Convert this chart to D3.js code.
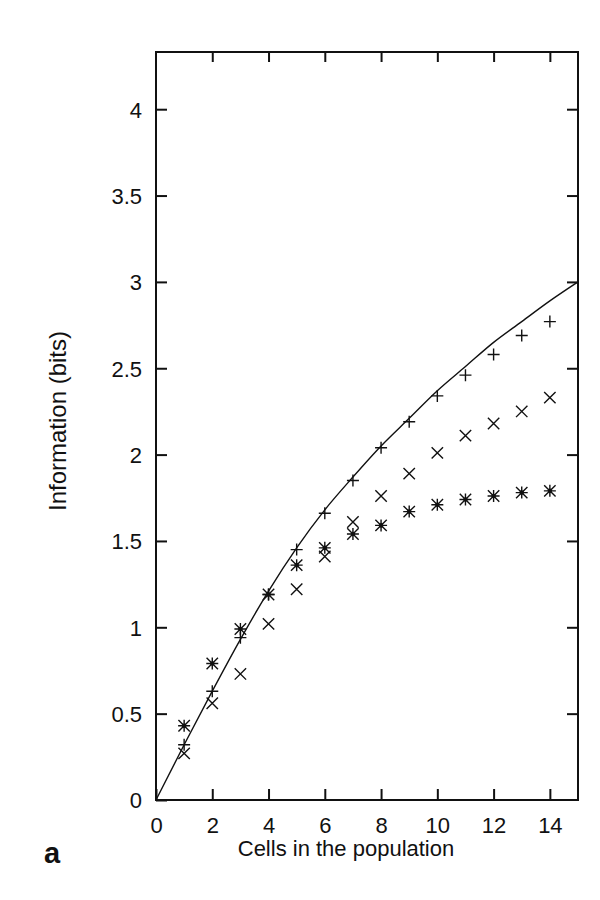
<!DOCTYPE html>
<html><head><meta charset="utf-8">
<script src="https://cdn.jsdelivr.net/npm/d3@7"></script>
<style>body{margin:0;background:#fff}svg{display:block}text{font-family:"Liberation Sans",Arial,Helvetica,sans-serif;fill:#111}</style>
</head><body>
<svg id="c" width="600" height="900"></svg>
<script>
const cells = [1,2,3,4,5,6,7,8,9,10,11,12,13,14];
const plusVals = [0.32,0.63,0.94,1.19,1.45,1.66,1.85,2.04,2.19,2.34,2.46,2.58,2.69,2.77];
const crossVals = [0.27,0.56,0.73,1.02,1.22,1.41,1.61,1.76,1.89,2.01,2.11,2.18,2.25,2.33];
const starVals = [0.43,0.79,0.99,1.19,1.36,1.46,1.54,1.59,1.67,1.71,1.74,1.76,1.78,1.79];
const curveX = [0,1,2,3,4,5,6,7,8,9,10,11,12,13,14,15];
const curveY = [0,0.32,0.63,0.93,1.21,1.46,1.68,1.87,2.05,2.21,2.37,2.51,2.65,2.77,2.89,3.0];
const xTicks = [0,2,4,6,8,10,12,14];
const yTicks = [0,0.5,1,1.5,2,2.5,3,3.5,4];
const yTickLabels = ["0","0.5","1","1.5","2","2.5","3","3.5","4"];

const L=156, R=578, T=52, B=800;
const x = d3.scaleLinear().domain([0,15]).range([L,R]);
const y = d3.scaleLinear().domain([0,4]).range([B,B-4*172.7]);
const svg = d3.select("#c");

// frame
svg.append("rect").attr("x",L).attr("y",T).attr("width",R-L).attr("height",B-T)
  .attr("fill","none").attr("stroke","#111").attr("stroke-width",2);

// axes ticks (inward) bottom/left
const gx = svg.append("g").attr("transform",`translate(0,${B})`)
  .call(d3.axisBottom(x).tickValues(xTicks).tickSize(-11).tickPadding(17).tickFormat(d3.format("d")));
const gy = svg.append("g").attr("transform",`translate(${L},0)`)
  .call(d3.axisLeft(y).tickValues(yTicks).tickSize(-11).tickPadding(14).tickFormat((d,i)=>yTickLabels[i]));
const gxt = svg.append("g").attr("transform",`translate(0,${T})`)
  .call(d3.axisTop(x).tickValues(xTicks.slice(1)).tickSize(-10).tickFormat(""));
const gyr = svg.append("g").attr("transform",`translate(${R},0)`)
  .call(d3.axisRight(y).tickValues(yTicks.slice(1)).tickSize(-11).tickFormat(""));
[gx,gy,gxt,gyr].forEach(g=>{
  g.select(".domain").remove();
  g.selectAll("line").attr("stroke","#111").attr("stroke-width",2);
  g.selectAll("text").attr("font-size",22).attr("fill","#111")
   .attr("font-family",'"Liberation Sans",Arial,sans-serif');
});
gy.selectAll("text").attr("dy","0.36em");
gx.selectAll("text").attr("dy","0.71em");

// curve
const line = d3.line().x((d,i)=>x(curveX[i])).y(d=>y(d)).curve(d3.curveMonotoneX);
svg.append("path").datum(curveY).attr("d",line).attr("fill","none")
  .attr("stroke","#111").attr("stroke-width",1.4);

const s = 6;
function plus(g){ g.append("path").attr("d",`M${-s},0H${s}M0,${-s}V${s}`); }
function cross(g){ const t=s*0.95; g.append("path").attr("d",`M${-t},${-t}L${t},${t}M${-t},${t}L${t},${-t}`); }
function star(g){ plus(g); cross(g); g.append("circle").attr("r",1.6).attr("fill","#111"); }
function series(vals, fn){
  const g = svg.append("g").attr("stroke","#111").attr("stroke-width",1.4).attr("fill","none");
  g.selectAll("g").data(vals).join("g")
   .attr("transform",(d,i)=>`translate(${x(cells[i])},${y(d)})`)
   .each(function(){ fn(d3.select(this)); });
}
series(crossVals, cross);
series(starVals, star);
series(plusVals, plus);

// labels
svg.append("text").attr("x",346).attr("y",856).attr("text-anchor","middle")
  .attr("font-size",22).text("Cells in the population");
svg.append("text").attr("transform","translate(66,421) rotate(-90)").attr("text-anchor","middle")
  .attr("font-size",24).text("Information (bits)");
svg.append("text").attr("x",44).attr("y",863).attr("font-size",29).attr("font-weight","bold").text("a");
</script>
</body></html>
